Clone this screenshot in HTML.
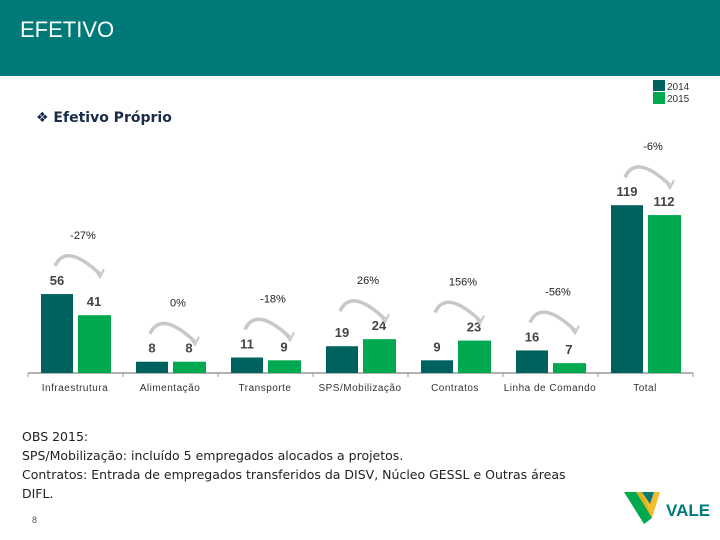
<!DOCTYPE html>
<html><head><meta charset="utf-8"><style>
body{margin:0;width:720px;height:540px;background:#fff;position:relative;overflow:hidden;font-family:"Liberation Sans",sans-serif}
.hdr{position:absolute;left:0;top:0;width:720px;height:76px;background:#007a78}
.hdr span{position:absolute;left:20px;top:17px;color:#fff;font-size:22px}
.sub{position:absolute;left:36px;top:110px;font-size:14px;font-weight:bold;color:#1a2b4a;font-family:"DejaVu Sans",sans-serif}
.obs{position:absolute;left:22px;top:427px;font-size:12.5px;line-height:19px;color:#222;font-family:"DejaVu Sans",sans-serif}
</style></head><body>
<div class="hdr"><span>EFETIVO</span></div>
<div class="sub">❖ Efetivo Próprio</div>
<svg width="720" height="540" style="position:absolute;left:0;top:0" id="chart">
<g>
<rect x="653" y="80" width="12" height="11" fill="#00625e"/>
<text x="667" y="90" font-size="10" fill="#333">2014</text>
<rect x="653" y="92" width="12" height="12" fill="#00a94f"/>
<text x="667" y="102" font-size="10" fill="#333">2015</text>
</g>
</svg>
<div class="obs">OBS 2015:<br>SPS/Mobilização: incluído 5 empregados alocados a projetos.<br>Contratos: Entrada de empregados transferidos da DISV, Núcleo GESSL e Outras áreas<br>DIFL.</div>
<div style="position:absolute;left:32px;top:515px;font-size:9px;color:#555">8</div>
<svg width="90" height="40" style="position:absolute;left:622px;top:488px">
<polygon points="2,4 20,4 30,30 22,36" fill="#00a94f"/>
<polygon points="14,4 38,4 30,30" fill="#f2b518" opacity=".9"/>
<polygon points="20,4 32,4 28,16" fill="#007a78"/>
<text x="44" y="28" font-size="17" font-weight="bold" fill="#007a78">VALE</text>
</svg>
<script>
const categories=["Infraestrutura","Alimentação","Transporte","SPS/Mobilização","Contratos","Linha de Comando","Total"];
const values2014=[56,8,11,19,9,16,119];
const values2015=[41,8,9,24,23,7,112];
const changeLabels=["-27%","0%","-18%","26%","156%","-56%","-6%"];
const svg=document.getElementById('chart');
const NS='http://www.w3.org/2000/svg';
const base=373,scale=1.41,x0=28,gw=95;
function y(v){return base-v*scale;}
function gx(i){return x0+i*gw;}
function mk(t,a){const e=document.createElementNS(NS,t);for(const k in a)e.setAttribute(k,a[k]);svg.appendChild(e);return e;}
const ax=mk('line',{x1:x0,y1:base,x2:x0+7*gw,y2:base,stroke:'#999','stroke-width':1.5});


for(let i=0;i<=7;i++){const t=mk('line',{x1:gx(i),y1:base,x2:gx(i),y2:base+4,stroke:'#999'});

}
categories.forEach((c,i)=>{
 const a=values2014[i],b=values2015[i];
 const xd=gx(i)+13,xl=gx(i)+50;
 const r1=mk('rect',{x:xd,y:y(a),width:32,height:a*scale,fill:'#00625e'});
 
 
 const r2=mk('rect',{x:xl,y:y(b),width:33,height:b*scale,fill:'#00a94f'});
 
 
 const t1=mk('text',{x:xd+16,y:y(a)-9,'text-anchor':'middle','font-size':13,'font-weight':'bold',fill:'#444'});t1.textContent=a;
 
 
 const t2=mk('text',{x:xl+16,y:y(b)-9,'text-anchor':'middle','font-size':13,'font-weight':'bold',fill:'#444'});t2.textContent=b;
 
 
 const cl=mk('text',{x:gx(i)+47,y:base+18,'text-anchor':'middle','font-size':10,fill:'#333','letter-spacing':'0.5'});cl.textContent=c;
 
 
 const top=Math.min(y(a),y(b))-58;
 const ar=mk('path',{d:`M${xd+14},${top+30} Q${gx(i)+38},${top+6} ${xl+22},${top+38}`,fill:'none',stroke:'#c8c8c8','stroke-width':3.5});
 
 
 const ah=mk('path',{d:`M${xl+17},${top+34} L${xl+22},${top+41} L${xl+26},${top+33}`,fill:'none',stroke:'#c8c8c8','stroke-width':2});
 
 
 const pl=mk('text',{x:gx(i)+55,y:top+3,'text-anchor':'middle','font-size':11,fill:'#222'});pl.textContent=changeLabels[i];
 
 
});
</script>
</body></html>
